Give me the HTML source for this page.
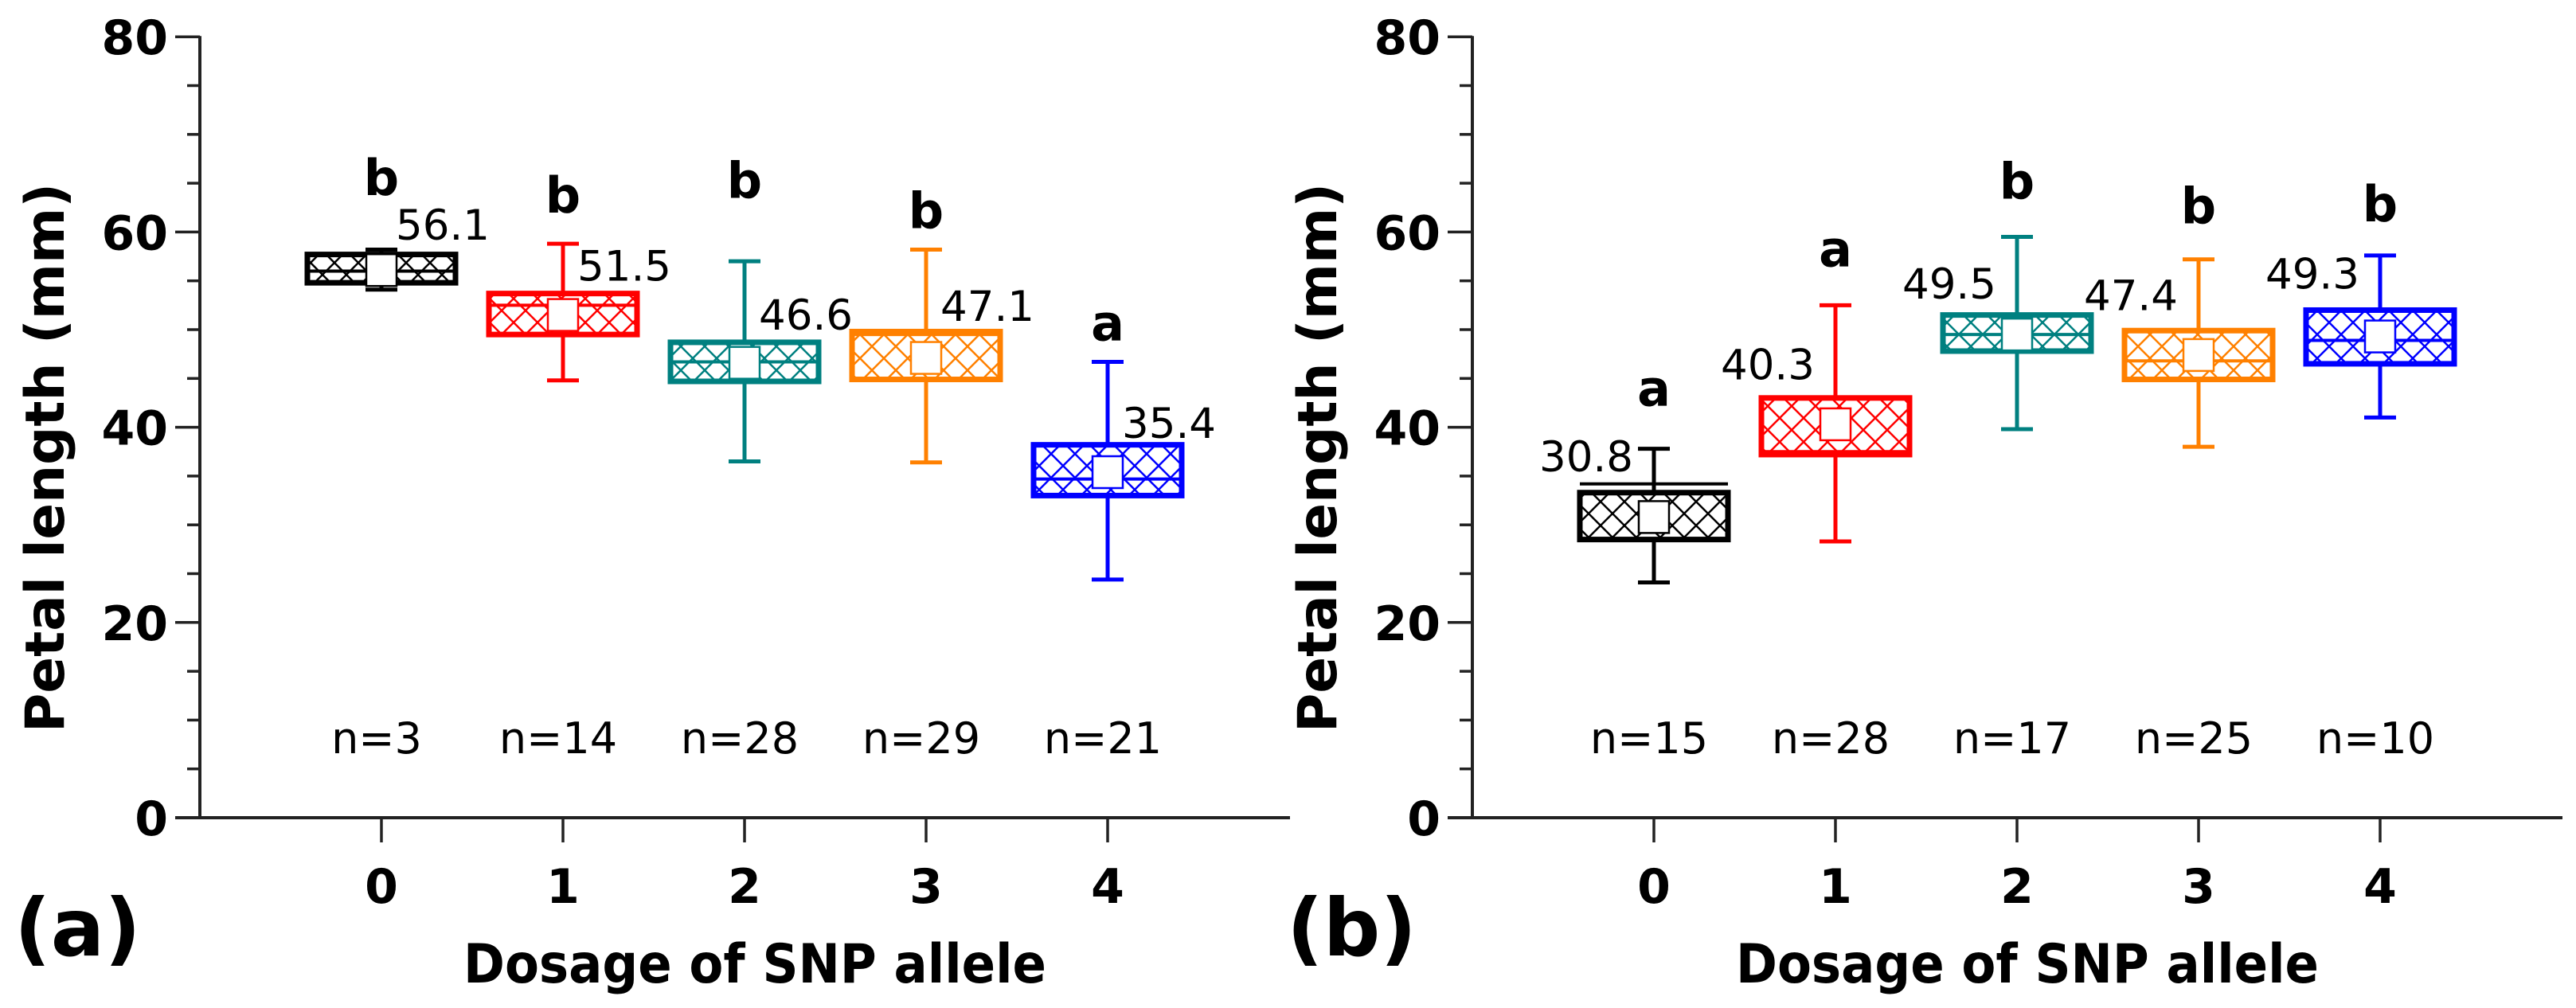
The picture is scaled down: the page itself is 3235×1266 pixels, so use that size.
<!DOCTYPE html>
<html><head><meta charset="utf-8"><style>
html,body{margin:0;padding:0;background:#fff}
svg{display:block}
text{font-family:"DejaVu Sans","Liberation Sans",sans-serif}
</style></head><body>
<svg id="fig" width="3235" height="1266" viewBox="0 0 3235 1266" xmlns="http://www.w3.org/2000/svg">
<defs id="defs"></defs>
</svg>
<script>
const categories = ["0","1","2","3","4"];
const colors = ["#000000","#ff0000","#008080","#ff8000","#0000ff"];
const yTicks = [0,20,40,60,80];
// Panel (a)
const aWhiskerMax = [58.2,58.8,57.0,58.2,46.7];
const aQ3 = [57.7,53.7,48.7,49.8,38.2];
const aMedian = [56.0,52.5,46.7,49.5,34.7];
const aQ1 = [54.8,49.5,44.7,44.9,33.0];
const aWhiskerMin = [54.1,44.8,36.5,36.4,24.4];
const aMean = [56.1,51.5,46.6,47.1,35.4];
const aMeanLabels = ["56.1","51.5","46.6","47.1","35.4"];
const aMeanLabelY = [59.2,55.0,50.0,50.9,38.9];
const aLetters = ["b","b","b","b","a"];
const aLetterY = [63.8,62.0,63.5,60.4,48.9];
const aN = ["n=3","n=14","n=28","n=29","n=21"];
// Panel (b)
const bWhiskerMax = [37.8,52.5,59.5,57.2,57.6];
const bQ3 = [33.3,43.0,51.5,49.9,52.0];
const bMedian = [34.2,37.5,49.5,46.8,48.9];
const bQ1 = [28.5,37.2,47.8,44.9,46.5];
const bWhiskerMin = [24.1,28.3,39.8,38.0,41.0];
const bMean = [30.8,40.3,49.5,47.4,49.3];
const bMeanLabels = ["30.8","40.3","49.5","47.4","49.3"];
const bMeanLabelY = [35.5,44.9,53.2,52.0,54.2];
const bLetters = ["a","a","b","b","b"];
const bLetterY = [42.2,56.5,63.4,60.9,61.1];
const bN = ["n=15","n=28","n=17","n=25","n=10"];

const NS="http://www.w3.org/2000/svg";
const svg=document.getElementById('fig');
const defs=document.getElementById('defs');
function el(tag,attrs,parent,txt){const e=document.createElementNS(NS,tag);for(const k in attrs)e.setAttribute(k,attrs[k]);if(txt!==undefined)e.textContent=txt;(parent||svg).appendChild(e);return e;}

// hatch patterns
colors.forEach((c,i)=>{
  const p=el('pattern',{id:'hatch'+i,width:30,height:30,patternUnits:'userSpaceOnUse'},defs);
  el('rect',{x:0,y:0,width:30,height:30,fill:'#fff'},p);
  el('path',{d:'M0,0 L30,30 M30,0 L0,30',stroke:c,'stroke-width':2.5,fill:'none'},p);
});

const Y0=1027, UNIT=12.26;
function yS(v){return Y0-v*UNIT;}
const CAT0=479, STEP=228, HALF=93;

function panel(off,d,tag,mode){
  const g=el('g',{});
  
  
  const ax=251+off;
  function xS(i){return CAT0+off+i*STEP;}
  // y axis
  const ya=el('line',{x1:ax,y1:yS(80)-1,x2:ax,y2:Y0,stroke:'#222','stroke-width':4},g);
  
  
  for(let v=0;v<=80;v+=5){
    const major=(v%20===0);
    el('line',{x1:ax-(major?31:16),y1:yS(v),x2:ax,y2:yS(v),stroke:'#222','stroke-width':3.5},g);
  }
  yTicks.forEach(v=>{
    const t=el('text',{x:ax-40,y:yS(v)+22,'text-anchor':'end','font-size':60,'font-weight':'bold'},g,String(v));
    
    
  });
  // x axis
  const xa=el('line',{x1:ax-31,y1:Y0,x2:1620+off,y2:Y0,stroke:'#222','stroke-width':4},g);
  
  
  categories.forEach((c,i)=>{
    el('line',{x1:xS(i),y1:Y0,x2:xS(i),y2:Y0+31,stroke:'#222','stroke-width':3.5},g);
    const t=el('text',{x:xS(i),y:1134,'text-anchor':'middle','font-size':60,'font-weight':'bold'},g,c);
    
    
  });
  const xt=el('text',{x:948+off,y:1234,'text-anchor':'middle','font-size':68,'font-weight':'bold',textLength:732,lengthAdjust:'spacingAndGlyphs'},g,'Dosage of SNP allele');
  
  
  const yt=el('text',{x:0,y:0,'text-anchor':'middle','font-size':68,'font-weight':'bold',textLength:690,lengthAdjust:'spacingAndGlyphs',transform:'translate('+(80+off)+',575) rotate(-90)'},g,'Petal length (mm)');
  
  
  const pl=el('text',{x:18+off,y:1200,'font-size':100,'font-weight':'bold'},g,'('+tag+')');
  
  
  // boxes
  categories.forEach((c,i)=>{
    const col=colors[i], x=xS(i);
    const bg=el('g',{},g);
    
    
    el('line',{x1:x,y1:yS(d.wmax[i]),x2:x,y2:yS(d.wmin[i]),stroke:col,'stroke-width':5},bg);
    el('line',{x1:x-20,y1:yS(d.wmax[i]),x2:x+20,y2:yS(d.wmax[i]),stroke:col,'stroke-width':5},bg);
    el('line',{x1:x-20,y1:yS(d.wmin[i]),x2:x+20,y2:yS(d.wmin[i]),stroke:col,'stroke-width':5},bg);
    el('rect',{x:x-HALF,y:yS(d.q3[i]),width:2*HALF,height:yS(d.q1[i])-yS(d.q3[i]),fill:'url(#hatch'+i+')',stroke:col,'stroke-width':7},bg);
    el('line',{x1:x-HALF,y1:yS(d.med[i]),x2:x+HALF,y2:yS(d.med[i]),stroke:col,'stroke-width':4},bg);
    el('rect',{x:x-19,y:yS(d.mean[i])-20,width:38,height:40,fill:'#fff',stroke:col,'stroke-width':2.5},bg);
    const ml=el('text',{x:mode==='right'?x+18:x-26,y:yS(d.mlY[i]),'text-anchor':mode==='right'?'start':'end','font-size':53},g,d.ml[i]);
    
    
    const lt=el('text',{x:x,y:yS(d.letY[i]),'text-anchor':'middle','font-size':62,'font-weight':'bold'},g,d.let[i]);
    
    
    const nt=el('text',{x:x-6,y:946,'text-anchor':'middle','font-size':54},g,d.n[i]);
    
    
  });
}
panel(0,{wmax:aWhiskerMax,q3:aQ3,med:aMedian,q1:aQ1,wmin:aWhiskerMin,mean:aMean,ml:aMeanLabels,mlY:aMeanLabelY,let:aLetters,letY:aLetterY,n:aN},'a','right');
panel(1598,{wmax:bWhiskerMax,q3:bQ3,med:bMedian,q1:bQ1,wmin:bWhiskerMin,mean:bMean,ml:bMeanLabels,mlY:bMeanLabelY,let:bLetters,letY:bLetterY,n:bN},'b','left');
</script>
</body></html>
